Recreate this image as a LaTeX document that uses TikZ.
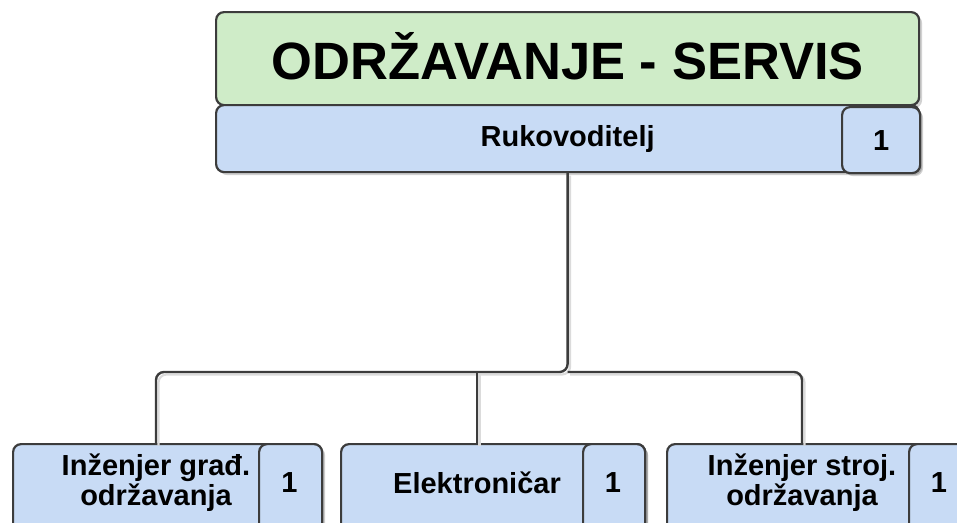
\documentclass[tikz,border=0pt]{standalone}
\usepackage{fontspec}
\setmainfont{Liberation Sans}
\usetikzlibrary{shadows,calc}
\definecolor{gfill}{RGB}{207,236,200}
\definecolor{bfill}{RGB}{200,219,245}
\definecolor{edge}{RGB}{60,60,60}
\begin{document}
\begin{tikzpicture}[x=1pt,y=-1pt,
  box/.style={draw=edge, line width=2.2pt, rounded corners=8pt, inner sep=0pt, anchor=north west,
    drop shadow={shadow xshift=3pt, shadow yshift=-3pt, fill=black, opacity=0.18}},
  lbl/.style={font=\bfseries\fontsize{29}{30}\selectfont, align=center, text=black},
  conn/.style={draw=edge, line width=2.4pt, rounded corners=8pt},
  connsh/.style={draw=black!14, line width=2.2pt, rounded corners=8pt,
    transform canvas={shift={(2.5pt,-2.5pt)}}}]
\useasboundingbox (0,0) rectangle (957,522);
\clip (0,0) rectangle (957,522);

% top
\node[box, fill=gfill, minimum width=703pt, minimum height=93pt,
  font=\bfseries\fontsize{52.5}{60}\selectfont] (title) at (215,11) {\raisebox{5pt}{ODRŽAVANJE - SERVIS}};
\node[box, fill=bfill, minimum width=703pt, minimum height=67pt, lbl] (ruk) at (215,104) {Rukovoditelj};
\node[box, fill=bfill, minimum width=78pt, minimum height=66pt, lbl] (n0) at (841,106) {1};

% bottom boxes
\node[box, fill=bfill, minimum width=308pt, minimum height=100pt] (b1) at (12,443) {};
\node[box, fill=bfill, minimum width=63pt, minimum height=100pt] (s1) at (258,443) {};
\node[box, fill=bfill, minimum width=304pt, minimum height=100pt] (b2) at (340,443) {};
\node[box, fill=bfill, minimum width=62pt, minimum height=100pt] (s2) at (582,443) {};
\node[box, fill=bfill, minimum width=310pt, minimum height=100pt] (b3) at (666,443) {};
\node[box, fill=bfill, minimum width=62pt, minimum height=100pt] (s3) at (908,443) {};

\node[lbl] (t1) at (156,483) {Inženjer građ.\\održavanja};
\node[lbl] (t2) at (477,483) {Elektroničar};
\node[lbl] (t3) at (802,483) {Inženjer stroj.\\održavanja};
\node[lbl] (u1) at (289.5,483) {1};
\node[lbl] (u2) at (613,483) {1};
\node[lbl] (u3) at (939,483) {1};

\coordinate (bus) at (0,372);

% connector shadows
\draw[connsh] (ruk.south) |- (t1 |- bus) -- (t1 |- b1.north);
\draw[connsh] (ruk.south |- bus) -| (t3 |- b3.north);
\draw[connsh] (t2 |- bus) -- (t2 |- b2.north);
% connectors
\draw[conn] (ruk.south) |- (t1 |- bus) -- (t1 |- b1.north);
\draw[conn] (ruk.south |- bus) -| (t3 |- b3.north);
\draw[conn] (t2 |- bus) -- (t2 |- b2.north);
\end{tikzpicture}
\end{document}
